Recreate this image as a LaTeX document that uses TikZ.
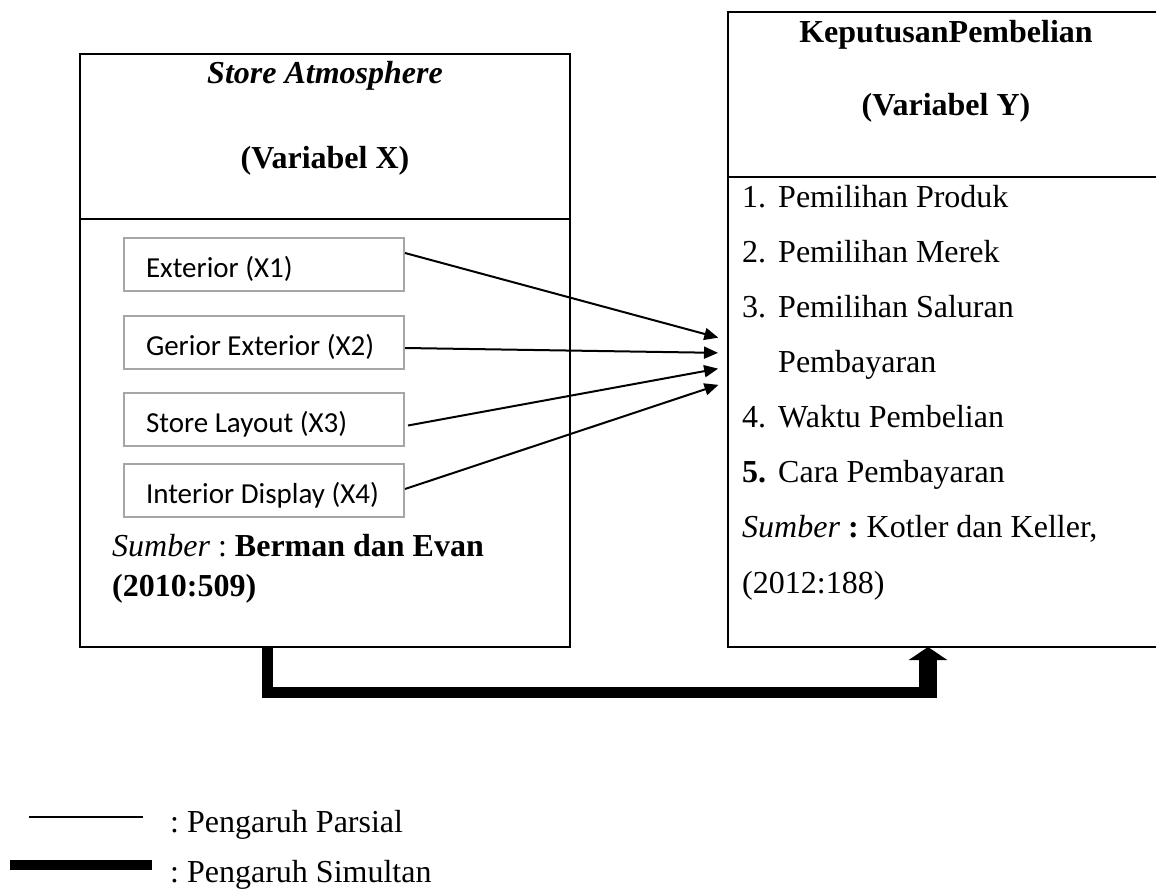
\documentclass[tikz,border=0pt]{standalone}
\usepackage{fontspec}
\setmainfont{Liberation Serif}
\newfontfamily\calfont{Carlito}
\usetikzlibrary{arrows.meta}
\frenchspacing
\newcommand\bigsz{\fontsize{32}{38}\selectfont}
\newcommand\calsz{\fontsize{29}{35}\selectfont}
\newcommand\boxtxt[1]{\makebox[236pt][l]{#1}}
\tikzset{
  mainbox/.style={draw=black, line width=2pt, rectangle, inner sep=0pt},
  innerbox/.style={draw=black!35, line width=2pt, rectangle, anchor=north west,
    minimum width=280pt, minimum height=53pt, inner xsep=22pt, inner ysep=0pt,
    text height=25pt, text depth=0pt, font=\calfont\calsz},
  txt/.style={inner sep=0pt, font=\bigsz},
  parsial/.style={line width=2pt, -{Triangle[length=14pt,width=12pt]}, shorten >=9pt},
  simulbar/.style={line width=11pt, line join=miter},
  simularrow/.style={line width=18pt, -{Triangle[length=13pt,width=38pt]}},
}
\begin{document}
\begin{tikzpicture}[x=1pt,y=-1pt]
\useasboundingbox (0,0) rectangle (1156,891);
\clip (0,0) rectangle (1156,891);
% main boxes
\node[mainbox, minimum width=490pt, minimum height=593pt] (xbox) at (325,350.5) {};
\node[mainbox, minimum width=436pt, minimum height=635pt] (ybox) at (946,329.5) {};
\draw[line width=2pt] (xbox.west |- 0,219) coordinate (xdl) -- (xbox.east |- 0,219) coordinate (xdr);
\draw[line width=2pt] (ybox.west |- 0,177) coordinate (ydl) -- (ybox.east |- 0,177) coordinate (ydr);
% left titles
\node[txt, anchor=base] (xt1) at (325,84) {\textbf{\textit{Store Atmosphere}}};
\node[txt, anchor=base] (xt2) at (325,168) {\textbf{(Variabel X)}};
% right titles
\node[txt, anchor=base] (yt1) at (946,43) {\textbf{KeputusanPembelian}};
\node[txt, anchor=base] (yt2) at (946,115) {\textbf{(Variabel Y)}};
% inner boxes
\node[innerbox] (x1) at (123,237) {\boxtxt{Exterior (X1)}};
\node[innerbox] (x2) at (123,315) {\boxtxt{Gerior Exterior (X2)}};
\node[innerbox] (x3) at (123,392) {\boxtxt{Store Layout (X3)}};
\node[innerbox] (x4) at (123,463) {\boxtxt{Interior Display (X4)}};
% left source
\node[txt, anchor=base west] (xs1) at (112,556) {\textit{Sumber} : \textbf{Berman dan Evan}};
\node[txt, anchor=base west] (xs2) at (112,596) {\textbf{(2010:509)}};
% right list
\node[txt, anchor=base west] (y1) at (742,207) {\makebox[36pt][l]{1.}Pemilihan Produk};
\node[txt, anchor=base west] (y2) at (742,262) {\makebox[36pt][l]{2.}Pemilihan Merek};
\node[txt, anchor=base west] (y3) at (742,317) {\makebox[36pt][l]{3.}Pemilihan Saluran};
\node[txt, anchor=base west] (y3b) at (778,372) {Pembayaran};
\node[txt, anchor=base west] (y4) at (742,427) {\makebox[36pt][l]{4.}Waktu Pembelian};
\node[txt, anchor=base west] (y5) at (742,482) {\makebox[36pt][l]{\textbf{5.}}Cara Pembayaran};
\node[txt, anchor=base west] (ys1) at (742,537) {\textit{Sumber} \textbf{:} Kotler dan Keller,};
\node[txt, anchor=base west] (ys2) at (742,593) {(2012:188)};
% partial arrows
\draw[parsial] ([yshift=11.5pt]x1.east) -- ([yshift=-10.5pt]ybox.west);
\draw[parsial] ([yshift=-5.5pt]x2.east) -- ([yshift=-23.5pt]ybox.west);
\draw[parsial] ([xshift=3pt,yshift=-6pt]x3.east) -- ([yshift=-37.5pt]ybox.west);
\draw[parsial] ([yshift=1.5pt]x4.east) -- ([yshift=-52.5pt]ybox.west);
% simultaneous connector
\draw[simulbar] ([xshift=-58pt]xbox.south) |- ([xshift=-27pt,yshift=-44.5pt]ybox.south);
\draw[simularrow] ([xshift=-18pt,yshift=-50pt]ybox.south) -- ([xshift=-18pt,yshift=1pt]ybox.south);
% legend
\coordinate (l1a) at (29,817); \coordinate (l1b) at (143,817);
\coordinate (l2a) at (10,865); \coordinate (l2b) at (152,865);
\draw[line width=1.3pt] (l1a) -- (l1b);
\draw[line width=10pt] (l2a) -- (l2b);
\node[txt, anchor=base west] (lg1) at (170,832) {: Pengaruh Parsial};
\node[txt, anchor=base west] (lg2) at (170,882) {: Pengaruh Simultan};
\end{tikzpicture}
\end{document}
